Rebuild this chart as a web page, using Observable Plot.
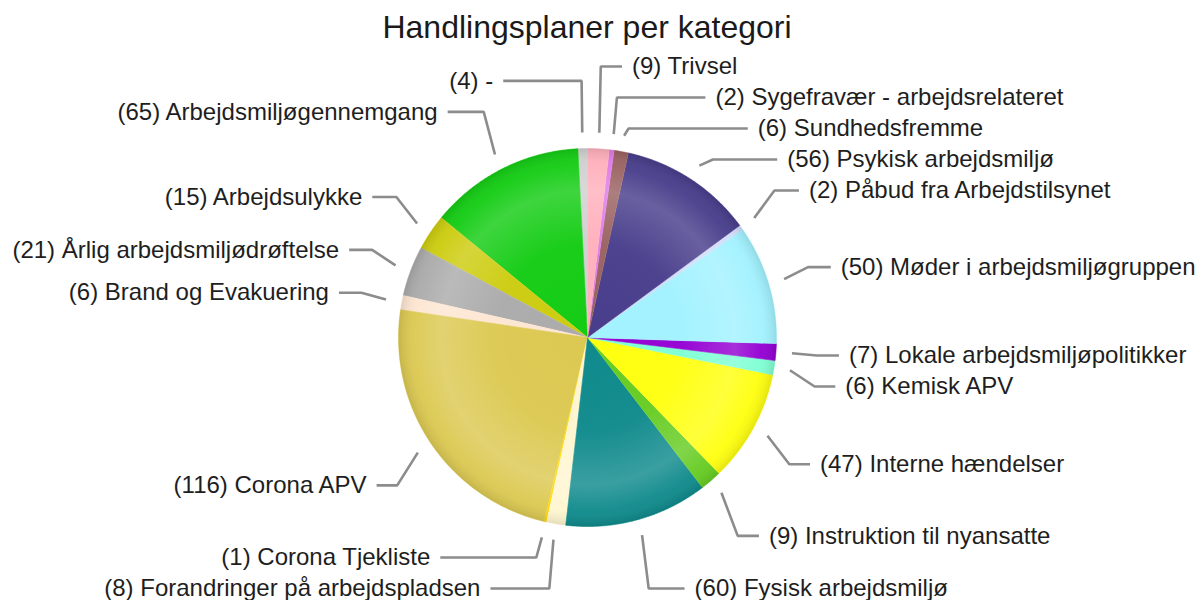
<!DOCTYPE html>
<html><head><meta charset="utf-8">
<script src="https://cdn.jsdelivr.net/npm/d3@7"></script>
<script src="https://cdn.jsdelivr.net/npm/@observablehq/plot@0.6"></script>
<style>
body{margin:0;background:#fff;width:1201px;height:600px;position:relative;overflow:hidden;font-family:"Liberation Sans",Arial,sans-serif;}
#title{position:absolute;top:2px;left:0;width:1174px;text-align:center;font-size:32px;line-height:50px;color:#1a1a1a;}
#chart{position:absolute;top:50px;left:0;}
</style></head><body>
<svg width="0" height="0" style="position:absolute"><defs>
<radialGradient id="shade" cx="0.5" cy="0.5" r="0.5">
 <stop offset="0" stop-color="#fff" stop-opacity="0"/>
 <stop offset="0.5" stop-color="#fff" stop-opacity="0.03"/>
 <stop offset="0.78" stop-color="#fff" stop-opacity="0.18"/>
 <stop offset="0.92" stop-color="#fff" stop-opacity="0.04"/>
 <stop offset="1" stop-color="#000" stop-opacity="0.1"/>
</radialGradient></defs></svg>
<div id="title">Handlingsplaner per kategori</div>
<div id="chart"></div>
<script>
// Slices, counter-clockwise from 12 o'clock
const categories = ["-", "Arbejdsmiljøgennemgang", "Arbejdsulykke", "Årlig arbejdsmiljødrøftelse",
  "Brand og Evakuering", "Corona APV", "Corona Tjekliste", "Forandringer på arbejdspladsen",
  "Fysisk arbejdsmiljø", "Instruktion til nyansatte", "Interne hændelser", "Kemisk APV",
  "Lokale arbejdsmiljøpolitikker", "Møder i arbejdsmiljøgruppen", "Påbud fra Arbejdstilsynet",
  "Psykisk arbejdsmiljø", "Sundhedsfremme", "Sygefravær - arbejdsrelateret", "Trivsel"];
const counts = [4, 65, 15, 21, 6, 116, 1, 8, 60, 9, 47, 6, 7, 50, 2, 56, 6, 2, 9];
const colors = ["#d0d0d0", "#14cc14", "#cccc10", "#ababab", "#fde6d2", "#dcc952", "#ffd700", "#fff6d0",
  "#0f8a8c", "#66cc22", "#ffff10", "#7fffd4", "#9400d3", "#a2f2ff", "#d0dcf8", "#483d8b",
  "#9a6262", "#e07ae8", "#ffb0bc"];

// layout constants (pixels)
const W = 1201, H = 550, TOP = 50;
const CX = 587, CY = 337, R = 189;
const GAP = 31 / R, MAXY = (CY - 66) / R, MINY = (CY - 588) / R;
const RL = 258 / R, YOFF = 3 / R, RSTART = 1.085, RELBOW = 1.217, RX = 262 / R, RY = 275 / R;

const rows = categories.map((c, i) => ({category: c, count: counts[i]}));
const arcs = d3.pie().sort(null).value(d => d.count).startAngle(0).endAngle(-2 * Math.PI)(rows);

const slicePts = [];
arcs.forEach(a => {
  const a0 = a.startAngle, a1 = a.endAngle;
  const n = Math.max(2, Math.ceil(Math.abs(a1 - a0) / (Math.PI / 360)));
  slicePts.push({key: a.data.category, x: 0, y: 0});
  for (let k = 0; k <= n; k++) {
    const t = a0 + (a1 - a0) * k / n;
    slicePts.push({key: a.data.category, x: Math.sin(t), y: Math.cos(t)});
  }
});
const circlePts = d3.range(0, 721).map(k => ({x: Math.sin(k * Math.PI / 360), y: Math.cos(k * Math.PI / 360)}));

// labels
const labels = arcs.map(a => {
  const mid = (a.startAngle + a.endAngle) / 2;
  return {key: a.data.category, label: `(${a.data.count}) ${a.data.category}`, mid,
    side: Math.sin(mid) >= 0 ? 1 : -1, desired: RL * Math.cos(mid) - YOFF};
});
function spread(items) {
  items.sort((p, q) => q.desired - p.desired);
  let groups = items.map(d => ({items: [d]}));
  const place = g => {
    const n = g.items.length;
    let top = d3.mean(g.items, d => d.desired) + (n - 1) * GAP / 2;
    top = Math.min(top, MAXY);
    top = Math.max(top, MINY + (n - 1) * GAP);
    g.top = top;
  };
  groups.forEach(place);
  let changed = true;
  while (changed) {
    changed = false;
    for (let i = 0; i < groups.length - 1; i++) {
      const A = groups[i], B = groups[i + 1];
      const bottom = A.top - (A.items.length - 1) * GAP;
      if (bottom - GAP < B.top - 1e-9) {
        A.items = A.items.concat(B.items); place(A); groups.splice(i + 1, 1); changed = true; break;
      }
    }
  }
  groups.forEach(g => g.items.forEach((d, i) => d.ly = g.top - i * GAP));
}
spread(labels.filter(d => d.side > 0));
spread(labels.filter(d => d.side < 0));
const leaderPts = [];
labels.forEach(d => {
  const sx = RSTART * Math.sin(d.mid), sy = RSTART * Math.cos(d.mid);
  const ex = RELBOW * Math.sin(d.mid), ey = d.ly;
  const ring = RX * Math.sqrt(Math.max(0, 1 - (d.ly / RY) ** 2));
  d.tx = d.side > 0 ? Math.max(ex + 20 / R, ring) : Math.min(ex - 20 / R, -ring);
  const lx = d.tx - d.side * 10 / R;
  leaderPts.push({key: d.key, x: sx, y: sy}, {key: d.key, x: ex, y: ey}, {key: d.key, x: lx, y: ey});
});

const plot = Plot.plot({
  width: W, height: H, margin: 0,
  x: {domain: [-CX / R, (W - CX) / R], axis: null},
  y: {domain: [-(H - (CY - TOP)) / R, (CY - TOP) / R], axis: null},
  color: {domain: categories, range: colors},
  style: {fontFamily: "'Liberation Sans', Arial, sans-serif", background: "transparent"},
  marks: [
    Plot.line(slicePts, {x: "x", y: "y", z: "key", fill: "key", stroke: "key", strokeWidth: 0.6, curve: "linear"}),
    Plot.line(circlePts, {x: "x", y: "y", fill: "url(#shade)", stroke: "none"}),
    Plot.line(leaderPts, {x: "x", y: "y", z: "key", stroke: "#8c8c8c", strokeWidth: 2.6, strokeLinejoin: "miter", strokeLinecap: "butt"}),
    Plot.text(labels.filter(d => d.side > 0), {x: "tx", y: "ly", text: "label", textAnchor: "start", fontSize: 24, fill: "#1e1e1e"}),
    Plot.text(labels.filter(d => d.side < 0), {x: "tx", y: "ly", text: "label", textAnchor: "end", fontSize: 24, fill: "#1e1e1e"})
  ]
});
document.getElementById("chart").appendChild(plot);
</script>
</body></html>
